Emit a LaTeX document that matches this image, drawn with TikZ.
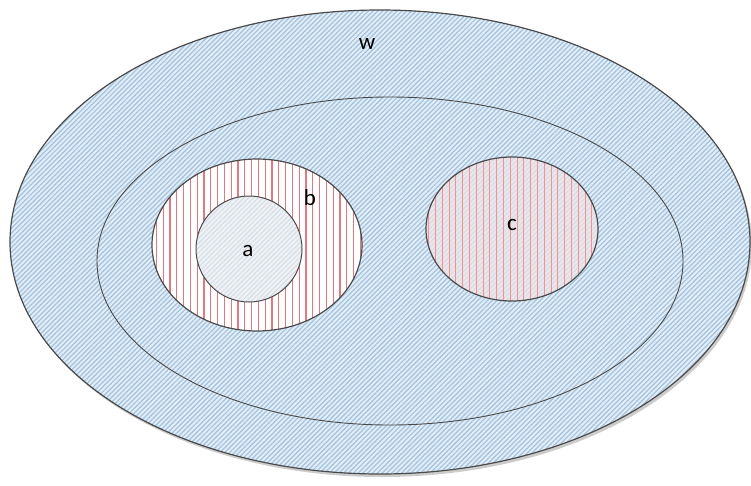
\documentclass[tikz,border=0pt]{standalone}
\usepackage{fontspec}
\setmainfont{Carlito}
\usetikzlibrary{patterns.meta}
\definecolor{hatchblue}{HTML}{A3C2DE}
\definecolor{bgblue}{HTML}{E2EDF7}
\definecolor{hatchred}{HTML}{E07A80}
\definecolor{edgegray}{HTML}{4A4A4A}
\definecolor{cfill}{HTML}{F1E4E6}
\tikzset{
  setedge/.style={draw=edgegray, line width=1.2pt},
  bluehatch/.style={pattern={Lines[angle=45,distance=3.4pt,line width=1.2pt]}, pattern color=hatchblue},
  faintblue/.style={pattern={Lines[angle=45,distance=3.4pt,line width=0.8pt]}, pattern color=hatchblue!55},
  redvert/.style={pattern={Lines[angle=90,distance=6.8pt,line width=1.1pt]}, pattern color=hatchred},
  thinred/.style={pattern={Lines[angle=90,distance=6.8pt,line width=0.6pt]}, pattern color=hatchred!80},
  lbl/.style={font=\fontsize{23}{23}\selectfont, inner sep=0pt}
}
\begin{document}
\begin{tikzpicture}[x=1pt,y=-1pt]
\useasboundingbox (0,0) rectangle (751,485);
% outer W
\fill[gray!40] (382,245) ellipse [x radius=370, y radius=232];
\fill[bgblue] (380,242) ellipse [x radius=370, y radius=232];
\path[bluehatch] (380,242) ellipse [x radius=370, y radius=232];
\draw[setedge] (380,242) ellipse [x radius=370, y radius=232];
% middle
\draw[draw=edgegray, line width=0.9pt] (390,261) ellipse [x radius=293, y radius=164];
% b
\fill[white] (257,245) ellipse [x radius=105, y radius=86];
\path[redvert] (257,245) ellipse [x radius=105, y radius=86];
\draw[setedge] (257,245) ellipse [x radius=105, y radius=86];
% a
\fill[gray!12] (249,249) circle [radius=53];
\path[faintblue] (249,249) circle [radius=53];
\draw[draw=edgegray, line width=1pt] (249,249) circle [radius=53];
% c
\fill[cfill] (512,229) ellipse [x radius=86, y radius=72];
\path[faintblue] (512,229) ellipse [x radius=86, y radius=72];
\path[thinred] (512,229) ellipse [x radius=86, y radius=72];
\draw[setedge] (512,229) ellipse [x radius=86, y radius=72];
% labels
\node[lbl] (w) at (367,44) {w};
\node[lbl] (b) at (310,198) {b};
\node[lbl] (a) at (248,251) {a};
\node[lbl] (c) at (512,225) {c};
\end{tikzpicture}
\end{document}
